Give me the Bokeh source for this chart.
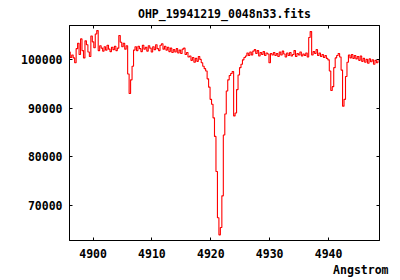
from bokeh.plotting import figure
from bokeh.models import Range1d, FixedTicker, LinearAxis, Title, BasicTickFormatter
from bokeh.embed import file_html
from bokeh.resources import INLINE
import numpy as np

TITLE = "OHP_19941219_0048n33.fits"
XLABEL = "Angstrom"
WAVE_START = 4896.0
WAVE_STEP = 0.25
FLUX = [
    101500, 100400, 100900, 100300, 99300, 102200, 103300, 101000, 104200, 101800,
    100300, 103800, 103000, 101500, 100600, 104800, 103600, 102400, 105200, 105900,
    101800, 102800, 102300, 101700, 102600, 101900, 102900, 102100, 101600, 102500,
    102000, 102700, 101800, 102300, 104900, 103500, 102600, 103300, 102100, 102800,
    97000, 93000, 95800, 98600, 101900, 102600, 101800, 102700, 102200, 101600,
    102900, 102100, 102500, 101700, 102800, 102300, 101500, 102600, 102000, 103000,
    102200, 101800, 102900, 103200, 102100, 102700, 101900, 102500, 101600, 102300,
    101400, 102000, 101500, 102200, 101300, 101900, 101200, 102100, 102300, 101000,
    101400, 100500, 100700, 99800, 100400, 99400, 100200, 99600, 100600, 100000,
    99300, 98600, 98100, 97600, 96000, 94300, 91800, 90800, 88000, 84200,
    77000, 67500, 64000, 65500, 72000, 84500, 88800, 93500, 95800, 96700,
    97100, 97500, 88400, 89000, 93800, 96800, 98300, 99000, 99900, 100400,
    100700, 101300, 100800, 101500, 100900, 101700, 102000, 101200, 101800, 100700,
    101400, 101000, 101600, 100800, 101300, 101100, 99300, 101200, 100900, 101400,
    100800, 101200, 100600, 101500, 100900, 101700, 101100, 100500, 101300, 100800,
    101400, 100700, 101000, 101800, 100600, 101200, 100900, 101500, 100700, 101100,
    100800, 101300, 100500, 104500, 105700, 100900, 101600, 101200, 102000, 100800,
    101300, 100600, 101000, 100400, 100800, 100200, 99900, 97600, 93600, 94400,
    98300, 100300, 100800, 101200, 100500, 97800, 90400, 91800, 96500, 99400,
    100900, 100300, 101000, 100200, 100800, 100100, 100600, 99800, 100700, 99600,
    100200, 99400, 100000, 99200, 100100, 99500, 99900, 99000, 99800, 99300,
    99700,
]
X_TICKS = [4900, 4910, 4920, 4930, 4940]
Y_TICKS = [70000, 80000, 90000, 100000]

wave = WAVE_START + WAVE_STEP * np.arange(len(FLUX))

FONT = "DejaVu Sans Mono"
FS = "11.5px"

p = figure(width=400, height=280, output_backend="svg", toolbar_location=None,
           x_range=Range1d(4896.0, 4948.65), y_range=Range1d(62840, 106950),
           min_border_left=69, min_border_right=21, min_border_top=25,
           min_border_bottom=40)
p.title.text = TITLE
p.title.align = "center"
p.title.text_font = FONT
p.title.text_font_style = "bold"
p.title.text_font_size = FS
p.title.text_color = "black"
p.title.standoff = 9

p.xgrid.visible = False
p.ygrid.visible = False
p.outline_line_color = "black"
p.outline_line_width = 1
p.background_fill_color = "white"
p.border_fill_color = "white"

p.step(wave, FLUX, mode="center", line_color="#ff0000", line_width=1.1)

for ax in (p.xaxis[0], p.yaxis[0]):
    ax.major_tick_in = 3
    ax.major_tick_out = 0
    ax.minor_tick_line_color = None
    ax.axis_line_color = "black"
    ax.major_tick_line_color = "black"
    ax.major_label_text_font = FONT
    ax.major_label_text_font_style = "bold"
    ax.major_label_text_font_size = FS
    ax.major_label_text_color = "black"
p.xaxis[0].ticker = FixedTicker(ticks=X_TICKS)
p.yaxis[0].ticker = FixedTicker(ticks=Y_TICKS)
p.yaxis[0].formatter = BasicTickFormatter(use_scientific=False)
p.xaxis[0].major_label_standoff = 8
p.yaxis[0].major_label_standoff = 7

top = LinearAxis(ticker=FixedTicker(ticks=X_TICKS),
                 major_label_overrides={t: "" for t in X_TICKS},
                 major_label_standoff=0,
                 major_tick_in=3, major_tick_out=0, minor_tick_line_color=None,
                 axis_line_color="black")
right = LinearAxis(ticker=FixedTicker(ticks=Y_TICKS),
                   major_label_overrides={t: "" for t in Y_TICKS},
                   major_label_standoff=0,
                   major_tick_in=3, major_tick_out=0, minor_tick_line_color=None,
                   axis_line_color="black")
p.add_layout(top, "above")
p.add_layout(right, "right")

xl = Title(text=XLABEL, align="right", offset=-9, text_font=FONT,
           text_font_style="bold", text_font_size=FS, text_color="black",
           standoff=0)
p.add_layout(xl, "below")

open("out.html", "w").write(file_html(p, INLINE))
